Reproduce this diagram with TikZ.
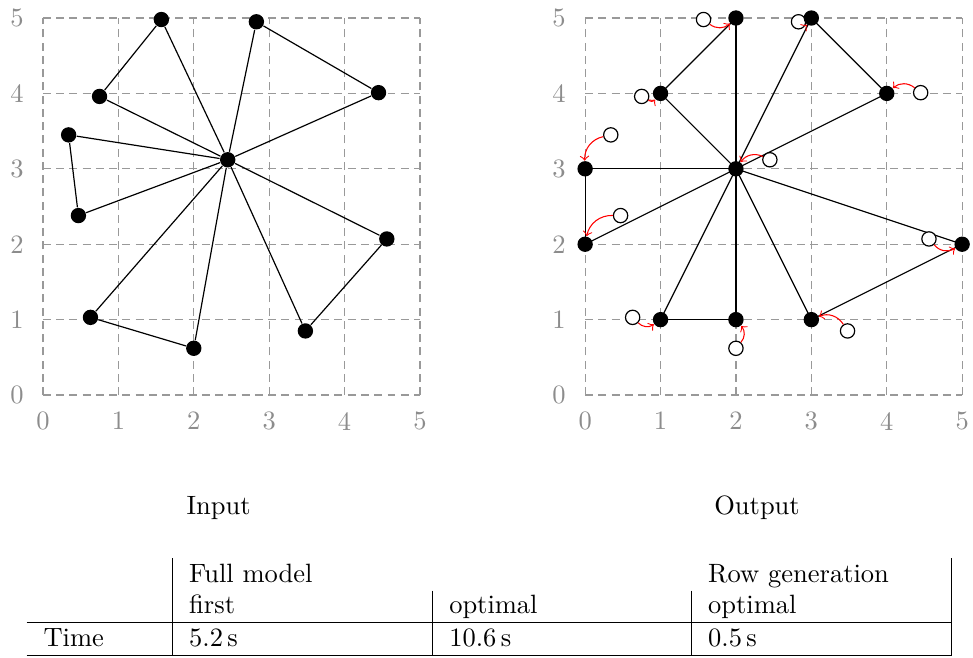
\documentclass[tikz,border=0pt]{standalone}
\usetikzlibrary{arrows}
\definecolor{tickgray}{gray}{0.55}
\definecolor{gridgray}{gray}{0.6}
\begin{document}
\begin{tikzpicture}[
  gridline/.style={gridgray, densely dashed, line width=0.45pt},
  ticklabel/.style={text=tickgray, inner sep=0},
  dot/.style={circle, fill=black, inner sep=0, minimum size=5.8pt},
  hollow/.style={circle, draw=black, fill=white, inner sep=0, minimum size=5.4pt, line width=0.45pt},
  edge/.style={black, line width=0.45pt},
  move/.style={->, red, line width=0.4pt, bend right=40},
  rulel/.style={black, line width=0.4pt},
  cell/.style={anchor=base west, inner sep=0}
]
\useasboundingbox (-0.570,-3.475) rectangle (12.334,5.239);

% ---------------- Input ----------------
\begin{scope}
  \draw[gridline] (0,0) grid (5,5);
  \foreach \i in {0,...,5} {
    \node[ticklabel] (lx\i) at (\i,-0.345) {\i};
    \node[ticklabel] (ly\i) at (-0.345,\i) {\i};
  }
  \node[dot] (L0) at (2.45,3.12) {};
  \node[dot] (L1) at (1.57,4.98) {};
  \node[dot] (L2) at (0.75,3.96) {};
  \node[dot] (L3) at (0.34,3.45) {};
  \node[dot] (L4) at (0.47,2.38) {};
  \node[dot] (L5) at (0.63,1.03) {};
  \node[dot] (L6) at (2.00,0.62) {};
  \node[dot] (L7) at (3.48,0.85) {};
  \node[dot] (L8) at (4.56,2.07) {};
  \node[dot] (L9) at (4.45,4.01) {};
  \node[dot] (L10) at (2.83,4.95) {};
  \foreach \j in {1,...,10} \draw[edge] (L0) -- (L\j);
  \draw[edge] (L1) -- (L2);
  \draw[edge] (L3) -- (L4);
  \draw[edge] (L5) -- (L6);
  \draw[edge] (L7) -- (L8);
  \draw[edge] (L9) -- (L10);
  \node[anchor=base] (inlabel) at (2.33,-1.578) {Input};
\end{scope}

% ---------------- Output ----------------
\begin{scope}[xshift=7.19cm]
  \draw[gridline] (0,0) grid (5,5);
  \foreach \i in {0,...,5} {
    \node[ticklabel] (rx\i) at (\i,-0.345) {\i};
    \node[ticklabel] (ry\i) at (-0.345,\i) {\i};
  }
  \coordinate (O0) at (2,3);
  \coordinate (O1) at (2,5);
  \coordinate (O2) at (1,4);
  \coordinate (O3) at (0,3);
  \coordinate (O4) at (0,2);
  \coordinate (O5) at (1,1);
  \coordinate (O6) at (2,1);
  \coordinate (O7) at (3,1);
  \coordinate (O8) at (5,2);
  \coordinate (O9) at (4,4);
  \coordinate (O10) at (3,5);
  \foreach \j in {1,...,10} \draw[edge] (O0) -- (O\j);
  \draw[edge] (O1) -- (O2);
  \draw[edge] (O3) -- (O4);
  \draw[edge] (O5) -- (O6);
  \draw[edge] (O7) -- (O8);
  \draw[edge] (O9) -- (O10);
  \node[hollow] (W0) at (2.45,3.12) {};
  \node[hollow] (W1) at (1.57,4.98) {};
  \node[hollow] (W2) at (0.75,3.96) {};
  \node[hollow] (W3) at (0.34,3.45) {};
  \node[hollow] (W4) at (0.47,2.38) {};
  \node[hollow] (W5) at (0.63,1.03) {};
  \node[hollow] (W6) at (2.00,0.62) {};
  \node[hollow] (W7) at (3.48,0.85) {};
  \node[hollow] (W8) at (4.56,2.07) {};
  \node[hollow] (W9) at (4.45,4.01) {};
  \node[hollow] (W10) at (2.83,4.95) {};
  \foreach \j in {0,...,10} \node[dot] (P\j) at (O\j) {};
  \foreach \j in {0,...,10} \draw[move] (W\j) to (P\j);
  \node[anchor=base] (outlabel) at (2.28,-1.578) {Output};
\end{scope}

% ---------------- Table ----------------
\draw[rulel] (-0.217,-3.011) -- (12.055,-3.011);
\draw[rulel] (-0.217,-3.455) -- (12.055,-3.455);
\draw[rulel] (1.720,-2.162) -- (1.720,-3.455);
\draw[rulel] (5.168,-2.593) -- (5.168,-3.455);
\draw[rulel] (8.603,-2.593) -- (8.603,-3.455);
\draw[rulel] (12.052,-2.162) -- (12.052,-3.455);
\node[cell] (tTime) at (0.0,-3.329) {Time};
\node[cell] (tFull) at (1.932,-2.48) {Full model};
\node[cell] (tFirst) at (1.932,-2.891) {first};
\node[cell] (tFirstV) at (1.932,-3.329) {5.2\,s};
\node[cell] (tOpt) at (5.381,-2.891) {optimal};
\node[cell] (tOptV) at (5.381,-3.329) {10.6\,s};
\node[cell] (tRow) at (8.815,-2.48) {Row generation};
\node[cell] (tRowOpt) at (8.815,-2.891) {optimal};
\node[cell] (tRowV) at (8.815,-3.329) {0.5\,s};
\end{tikzpicture}
\end{document}
